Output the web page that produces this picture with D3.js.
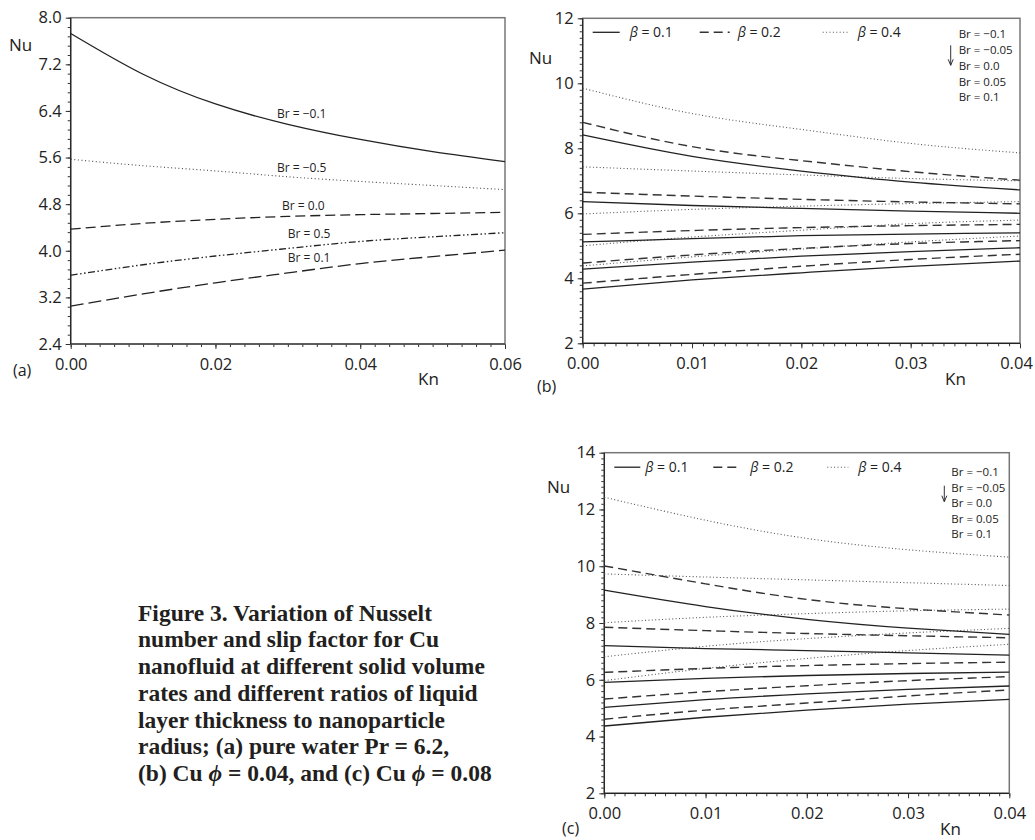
<!DOCTYPE html>
<html>
<head>
<meta charset="utf-8">
<script src="https://cdn.jsdelivr.net/npm/d3@7.9.0/dist/d3.min.js"></script>
<style>
  body { margin: 0; background: #fff; }
  svg { display: block; font-family: "Open Sans", sans-serif; }
</style>
</head>
<body>
<svg id="fig" width="1035" height="840"></svg>
<script>
// ---- data ----

// (a) pure water, Nu vs Kn for several Br
const knA = [0, 0.01, 0.02, 0.03, 0.04, 0.05, 0.06];
const brLabelsA = ['Br = \u22120.1', 'Br = \u22120.5', 'Br = 0.0', 'Br = 0.5', 'Br = 0.1'];
const nuA_brm01 = [7.73, 7.03, 6.52, 6.17, 5.91, 5.70, 5.53];
const nuA_brm05 = [5.57, 5.46, 5.37, 5.27, 5.19, 5.12, 5.05];
const nuA_br00 = [4.37, 4.47, 4.54, 4.59, 4.62, 4.64, 4.66];
const nuA_br05 = [3.58, 3.76, 3.91, 4.04, 4.16, 4.24, 4.31];
const nuA_br01 = [3.05, 3.26, 3.45, 3.62, 3.78, 3.90, 4.01];
// label anchors (Kn, Nu) for the Br labels in (a)
const labelKnA = [0.0285, 0.0285, 0.0292, 0.0300, 0.0300];
const labelNuA = [6.28, 5.35, 4.70, 4.22, 3.81];

// (b) and (c): Kn grid, Br from -0.1 down to 0.1, one array per beta
const knBC = [0, 0.01, 0.02, 0.03, 0.04];
const brList = ['Br = \u22120.1', 'Br = \u22120.05', 'Br = 0.0', 'Br = 0.05', 'Br = 0.1'];
const betaLabels = ['\u03b2 = 0.1', '\u03b2 = 0.2', '\u03b2 = 0.4'];

// (b) Cu phi = 0.04
const nuB_beta01 = [
  [8.41, 7.75, 7.30, 6.96, 6.72],
  [6.36, 6.24, 6.15, 6.07, 6.00],
  [5.12, 5.22, 5.31, 5.36, 5.40],
  [4.28, 4.50, 4.68, 4.82, 4.94],
  [3.67, 3.95, 4.17, 4.37, 4.53]
];
const nuB_beta02 = [
  [8.80, 8.05, 7.62, 7.28, 7.02],
  [6.65, 6.53, 6.43, 6.35, 6.29],
  [5.35, 5.47, 5.56, 5.62, 5.66],
  [4.47, 4.72, 4.92, 5.07, 5.16],
  [3.85, 4.12, 4.37, 4.58, 4.74]
];
const nuB_beta04 = [
  [9.85, 9.07, 8.58, 8.15, 7.86],
  [7.43, 7.30, 7.18, 7.07, 7.00],
  [5.98, 6.12, 6.22, 6.30, 6.36],
  [5.00, 5.27, 5.48, 5.68, 5.79],
  [4.38, 4.66, 4.90, 5.12, 5.30]
];

// (c) Cu phi = 0.08
const nuC_beta01 = [
  [9.16, 8.58, 8.13, 7.82, 7.60],
  [7.20, 7.10, 7.03, 6.95, 6.87],
  [5.91, 6.05, 6.15, 6.22, 6.27],
  [5.03, 5.30, 5.50, 5.66, 5.78],
  [4.37, 4.68, 4.93, 5.14, 5.31]
];
const nuC_beta02 = [
  [10.01, 9.38, 8.83, 8.50, 8.28],
  [7.85, 7.73, 7.63, 7.55, 7.48],
  [6.26, 6.40, 6.50, 6.57, 6.62],
  [5.32, 5.58, 5.79, 5.97, 6.11],
  [4.61, 4.93, 5.18, 5.43, 5.64]
];
const nuC_beta04 = [
  [12.43, 11.62, 10.98, 10.58, 10.32],
  [9.73, 9.62, 9.52, 9.42, 9.32],
  [8.01, 8.20, 8.33, 8.43, 8.49],
  [6.81, 7.18, 7.45, 7.65, 7.81],
  [5.97, 6.40, 6.75, 7.03, 7.25]
];

const captionLines = [
  'Figure 3. Variation of Nusselt',
  'number and slip factor for Cu',
  'nanofluid at different solid volume',
  'rates and different ratios of liquid',
  'layer thickness to nanoparticle',
  'radius; (a) pure water Pr = 6.2,'
];

// ---- drawing ----
const svg = d3.select('#fig');

// line styles
const SOLID = null;
const DOTTED = '1,2.4';
const DASHED = '9,5';

function drawFrame(x, y, o) {
  const g = svg.append('g');

  // minor ticks
  g.append('g')
    .attr('transform', `translate(0,${y.range()[0]})`)
    .call(d3.axisBottom(x).tickValues(d3.range(o.xDomain[0], o.xDomain[1] + 1e-9, o.xMinor)).tickSize(3).tickFormat(''))
    .call(a => a.select('.domain').remove());
  g.append('g')
    .attr('transform', `translate(${x.range()[0]},0)`)
    .call(d3.axisLeft(y).tickValues(d3.range(o.yDomain[0], o.yDomain[1] + 1e-9, o.yMinor)).tickSize(3).tickFormat(''))
    .call(a => a.select('.domain').remove());

  // major ticks + labels
  const xAxis = g.append('g')
    .attr('transform', `translate(0,${y.range()[0]})`)
    .call(d3.axisBottom(x).tickValues(d3.range(o.xDomain[0], o.xDomain[1] + 1e-9, o.xMajor)).tickSize(5).tickPadding(9).tickFormat(d3.format(o.xFmt)))
    .call(a => a.select('.domain').remove());
  g.append('g')
    .attr('transform', `translate(${x.range()[0]},0)`)
    .call(d3.axisLeft(y).tickValues(d3.range(o.yDomain[0], o.yDomain[1] + 1e-9, o.yMajor)).tickSize(5).tickPadding(4).tickFormat(d3.format(o.yFmt)))
    .call(a => a.select('.domain').remove());

  g.selectAll('.tick line').attr('stroke', '#333').attr('stroke-width', 1);
  g.selectAll('.tick text').attr('fill', '#222').style('font-size', '16.5px').style('font-family', '"Open Sans", sans-serif');

  // last x label sits against the page edge in (b)
  if (o.lastXShift) {
    const labels = xAxis.selectAll('.tick text').nodes();
    d3.select(labels[labels.length - 1]).attr('dx', o.lastXShift);
  }

  // box
  svg.append('rect')
    .attr('x', x.range()[0]).attr('y', y.range()[1])
    .attr('width', x.range()[1] - x.range()[0])
    .attr('height', y.range()[0] - y.range()[1])
    .attr('fill', 'none').attr('stroke', '#777').attr('stroke-width', 1.5);
  svg.append('path')
    .attr('d', `M${x.range()[0]},${y.range()[1]}V${y.range()[0]}H${x.range()[1]}`)
    .attr('fill', 'none').attr('stroke', '#222').attr('stroke-width', 1.2);

  // axis names and panel tag
  svg.append('text').attr('x', o.nuPos[0]).attr('y', o.nuPos[1]).text('Nu')
    .style('font-size', '17px').attr('fill', '#222');
  svg.append('text').attr('x', o.knPos[0]).attr('y', o.knPos[1]).text('Kn')
    .style('font-size', '17px').attr('fill', '#222');
  svg.append('text').attr('x', o.tagPos[0]).attr('y', o.tagPos[1]).text(o.tag)
    .style('font-size', '16px').attr('fill', '#222');
}

function drawSeries(x, y, kn, values, dash, width, color) {
  const line = d3.line()
    .x((d, i) => x(kn[i]))
    .y(d => y(d))
    .curve(d3.curveNatural);
  svg.append('path')
    .datum(values)
    .attr('d', line)
    .attr('fill', 'none')
    .attr('stroke', color)
    .attr('stroke-width', width)
    .attr('stroke-dasharray', dash);
}

// ---------- panel (a) ----------
{
  const o = {
    xDomain: [0, 0.06], yDomain: [2.4, 8.0],
    xMajor: 0.02, xMinor: 0.002, yMajor: 0.8, yMinor: 0.16,
    xFmt: '.2f', yFmt: '.1f',
    nuPos: [9, 51], knPos: [418, 385], tagPos: [13, 376], tag: '(a)'
  };
  const x = d3.scaleLinear().domain(o.xDomain).range([70.7, 505]);
  const y = d3.scaleLinear().domain(o.yDomain).range([344, 17.7]);
  drawFrame(x, y, o);

  drawSeries(x, y, knA, nuA_brm01, SOLID, 1.3, '#222');
  drawSeries(x, y, knA, nuA_brm05, '1,2.6', 1.1, '#444');
  drawSeries(x, y, knA, nuA_br00, '10,5', 1.3, '#222');
  drawSeries(x, y, knA, nuA_br05, '7,2.5,1.5,2.5,1.5,2.5', 1.3, '#222');
  drawSeries(x, y, knA, nuA_br01, '13,5', 1.3, '#222');

  brLabelsA.forEach((t, i) => {
    svg.append('text')
      .attr('x', x(labelKnA[i]))
      .attr('y', y(labelNuA[i]))
      .text(t)
      .style('font-size', '12px')
      .attr('fill', '#222');
  });
}

function drawBetaPanel(o, x, y, s01, s02, s04) {
  drawFrame(x, y, o);
  s04.forEach(v => drawSeries(x, y, knBC, v, DOTTED, 1.1, '#555'));
  s02.forEach(v => drawSeries(x, y, knBC, v, DASHED, 1.4, '#333'));
  s01.forEach(v => drawSeries(x, y, knBC, v, SOLID, 1.3, '#222'));

  const L = x.range()[0], T = y.range()[1];
  const styles = [
    { dash: SOLID, w: 1.3, c: '#222' },
    { dash: DASHED, w: 1.4, c: '#333' },
    { dash: DOTTED, w: 1.1, c: '#555' }
  ];
  betaLabels.forEach((t, i) => {
    svg.append('line')
      .attr('x1', L + o.legLine[i][0]).attr('x2', L + o.legLine[i][1])
      .attr('y1', T + o.legY).attr('y2', T + o.legY)
      .attr('stroke', styles[i].c).attr('stroke-width', styles[i].w)
      .attr('stroke-dasharray', styles[i].dash);
    const txt = svg.append('text')
      .attr('x', L + o.legText[i]).attr('y', T + o.legY + 5)
      .style('font-size', '14px').attr('fill', '#222');
    txt.append('tspan').style('font-style', 'italic').text('\u03b2');
    txt.append('tspan').text(t.slice(1));
  });

  brList.forEach((t, i) => {
    svg.append('text')
      .attr('x', L + o.brX).attr('y', T + o.brY0 + i * o.brDy)
      .text(t)
      .style('font-size', '11.5px').attr('fill', '#222');
  });
  // arrow
  const ax = L + o.arrow[0];
  svg.append('line')
    .attr('x1', ax).attr('x2', ax)
    .attr('y1', T + o.arrow[1]).attr('y2', T + o.arrow[2])
    .attr('stroke', '#333').attr('stroke-width', 1);
  svg.append('path')
    .attr('d', `M${ax - 2.5},${T + o.arrow[2] - 6}L${ax},${T + o.arrow[2]}L${ax + 2.5},${T + o.arrow[2] - 6}`)
    .attr('fill', 'none').attr('stroke', '#333').attr('stroke-width', 1);
}

// ---------- panel (b) ----------
{
  const o = {
    xDomain: [0, 0.04], yDomain: [2, 12],
    xMajor: 0.01, xMinor: 0.001, yMajor: 2, yMinor: 0.2,
    xFmt: '.2f', yFmt: 'd', lastXShift: -4,
    nuPos: [529, 64], knPos: [945, 385], tagPos: [537, 392], tag: '(b)',
    legY: 14, legLine: [[10, 37], [117, 147], [240, 267]], legText: [47, 155, 275],
    brX: 376, brY0: 19.5, brDy: 15.9, arrow: [368, 27, 47]
  };
  const x = d3.scaleLinear().domain(o.xDomain).range([582.7, 1020]);
  const y = d3.scaleLinear().domain(o.yDomain).range([343.3, 18.3]);
  drawBetaPanel(o, x, y, nuB_beta01, nuB_beta02, nuB_beta04);
}

// ---------- panel (c) ----------
{
  const o = {
    xDomain: [0, 0.04], yDomain: [2, 14],
    xMajor: 0.01, xMinor: 0.001, yMajor: 2, yMinor: 0.2,
    xFmt: '.2f', yFmt: 'd',
    nuPos: [547, 493], knPos: [940, 835], tagPos: [562, 834], tag: '(c)',
    legY: 14.5, legLine: [[10, 36], [109, 136], [223, 244]], legText: [41, 146, 254],
    brX: 347, brY0: 23.5, brDy: 15.5, arrow: [340, 33, 49]
  };
  const x = d3.scaleLinear().domain(o.xDomain).range([604.3, 1009.3]);
  const y = d3.scaleLinear().domain(o.yDomain).range([793.3, 452.7]);
  drawBetaPanel(o, x, y, nuC_beta01, nuC_beta02, nuC_beta04);
}

// ---------- caption ----------
{
  const cap = svg.append('text')
    .attr('x', 138).attr('y', 620.7)
    .style('font-family', '"Liberation Serif", "Times New Roman", serif')
    .style('font-weight', 'bold')
    .style('font-size', '23.5px')
    .attr('fill', '#231f20');
  captionLines.forEach((t, i) => {
    cap.append('tspan').attr('x', 138).attr('dy', i === 0 ? 0 : 26.7).text(t);
  });
  const last = cap.append('tspan').attr('x', 138).attr('dy', 26.7);
  last.append('tspan').text('(b) Cu ');
  last.append('tspan').style('font-style', 'italic').text('\u03d5');
  last.append('tspan').text(' = 0.04, and (c) Cu ');
  last.append('tspan').style('font-style', 'italic').text('\u03d5');
  last.append('tspan').text(' = 0.08');
}
</script>
</body>
</html>
